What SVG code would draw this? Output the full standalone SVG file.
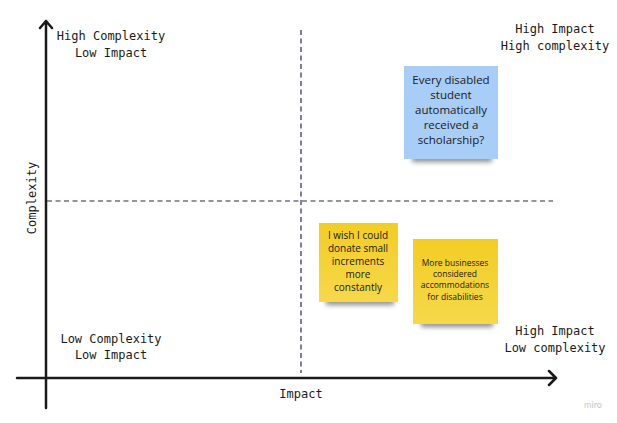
<svg xmlns="http://www.w3.org/2000/svg" width="617" height="423" viewBox="0 0 617 423">
<style>
.lbl{font-family:"DejaVu Sans Mono","Liberation Mono",monospace;font-size:12px;fill:#1a1a1a;text-anchor:middle}
.note{font-family:"Open Sans","Noto Sans",sans-serif;fill:#1a1a1a;text-anchor:middle}
.axis{stroke:#1a1a1a;stroke-width:2.5;fill:none;stroke-linecap:round;stroke-linejoin:round}
.dash{stroke:#2a2a55;stroke-width:1.2;stroke-dasharray:5 3.5;fill:none}
</style>
<defs>
<filter id="sh" x="-30%" y="-200%" width="160%" height="500%"><feGaussianBlur stdDeviation="2.5"/></filter>
<linearGradient id="yel" x1="0" y1="0" x2="0" y2="1"><stop offset="0" stop-color="#f2cd24"/><stop offset="1" stop-color="#f6d84a"/></linearGradient>
</defs>
<rect width="617" height="423" fill="#ffffff"/>
<g id="connectors">
<line class="dash" x1="301" y1="30" x2="301" y2="373"/>
<line class="dash" x1="47" y1="201" x2="553" y2="201"/>
<path class="axis" d="M46,408 V21 M40,28 L46,21 L52,28"/>
<path class="axis" d="M17,378 H556 M549,371 L556,378 L549,385"/>
</g>
<g id="label-hc-li"><text class="lbl" x="111" y="40">High Complexity</text><text class="lbl" x="111" y="56.5">Low Impact</text></g>
<g id="label-hi-hc"><text class="lbl" x="555" y="33">High Impact</text><text class="lbl" x="555" y="49.5">High complexity</text></g>
<g id="label-lc-li"><text class="lbl" x="111" y="342.5">Low Complexity</text><text class="lbl" x="111" y="359">Low Impact</text></g>
<g id="label-hi-lc"><text class="lbl" x="555" y="335">High Impact</text><text class="lbl" x="555" y="351.5">Low complexity</text></g>
<g id="axis-x-label"><text class="lbl" x="301" y="398">Impact</text></g>
<g id="axis-y-label"><text class="lbl" transform="translate(36,198) rotate(-90)" x="0" y="0">Complexity</text></g>
<g id="note-scholarship">
<rect x="412" y="155" width="80" height="7" fill="#000" opacity="0.45" filter="url(#sh)"/>
<rect x="404" y="66" width="94" height="93" fill="#a8cdf6"/>
<g class="note" font-size="11.5"><text x="451" y="84">Every disabled</text><text x="451" y="99">student</text><text x="451" y="114">automatically</text><text x="451" y="129">received a</text><text x="451" y="144">scholarship?</text></g>
</g>
<g id="note-donate">
<rect x="326" y="298" width="68" height="7" fill="#000" opacity="0.45" filter="url(#sh)"/>
<rect x="319" y="223" width="79" height="79" fill="url(#yel)"/>
<g class="note" font-size="10"><text x="358" y="239">I wish I could</text><text x="358" y="252">donate small</text><text x="358" y="265">increments</text><text x="358" y="278">more</text><text x="358" y="291">constantly</text></g>
</g>
<g id="note-businesses">
<rect x="421" y="320" width="72" height="7" fill="#000" opacity="0.45" filter="url(#sh)"/>
<rect x="413" y="239" width="85" height="85" fill="url(#yel)"/>
<g class="note" font-size="8.5"><text x="455" y="265.5">More businesses</text><text x="455" y="277">considered</text><text x="455" y="288.3">accommodations</text><text x="455" y="299.7">for disabilities</text></g>
</g>
<text x="593" y="407.5" font-family="Lato,'Noto Sans',sans-serif" font-size="9" fill="#c4c4d4" text-anchor="middle">miro</text>
</svg>
